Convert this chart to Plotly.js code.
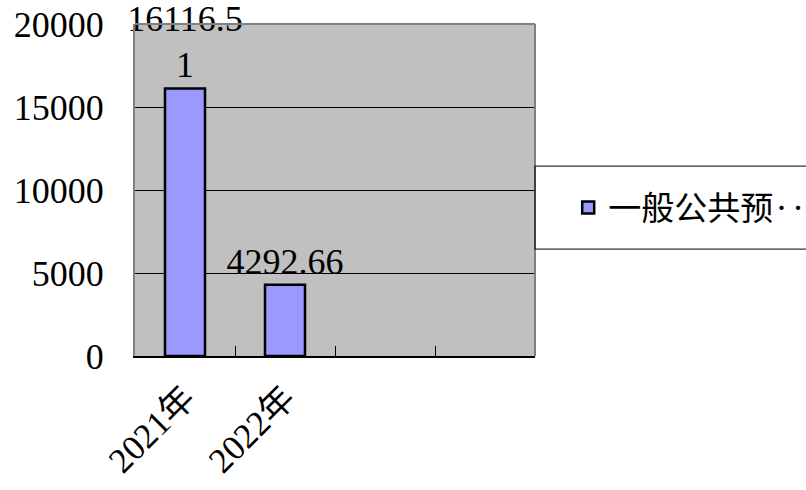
<!DOCTYPE html>
<html>
<head>
<meta charset="utf-8">
<script src="https://cdn.plot.ly/plotly-3.0.1.min.js"></script>
<style>html,body{margin:0;padding:0;background:#fff;}#chart{width:806px;height:490px;}</style>
</head>
<body>
<div id="chart"></div>
<script>
// ---- data ----
const categories = ['2021年', '2022年', '\u3000', '\u3000\u3000'];
const values = [16116.51, 4292.66, null, null];
const seriesName = '一般公共预‥';
const yTicks = [0, 5000, 10000, 15000, 20000];

// label wrapping like the reference (label box wraps after 7 characters)
function wrapLabel(v) {
  if (v === null) return '';
  const s = String(v);
  return s.length > 7 ? s.slice(0, 7) + '<br>' + s.slice(7) : s;
}
const labels = values.map(wrapLabel);

const FONT = '"Liberation Serif", "Noto Sans CJK SC", serif';

const trace = {
  type: 'bar',
  x: categories,
  y: values,
  name: seriesName,
  width: 0.4,
  marker: { color: '#9999ff', line: { color: '#000000', width: 2.5 } },
  text: labels,
  textposition: 'outside',
  constraintext: 'none',
  cliponaxis: false,
  textfont: { family: FONT, size: 36, color: '#000' },
  hoverinfo: 'none'
};

const layout = {
  width: 806, height: 490,
  margin: { l: 135, r: 271, t: 24, b: 134, pad: 0, autoexpand: false },
  paper_bgcolor: '#ffffff',
  plot_bgcolor: '#c0c0c0',
  font: { family: FONT, size: 36, color: '#000' },
  showlegend: true,
  legend: {
    x: 1.083, xanchor: 'left', y: 0.447, yanchor: 'middle',
    bgcolor: 'rgba(0,0,0,0)', borderwidth: 0,
    font: { family: '"Noto Sans CJK SC", sans-serif', size: 33, color: '#000' }
  },
  xaxis: {
    type: 'category',
    categoryorder: 'array', categoryarray: categories,
    range: [-0.5, 3.5],
    tickson: 'boundaries',
    ticks: 'inside', ticklen: 10, tickcolor: '#000', tickwidth: 1,
    tickangle: -45,
    ticklabelstandoff: 6,
    tickfont: { family: FONT, size: 35, color: '#000' },
    showline: true, linecolor: '#000', linewidth: 1.5, mirror: false,
    showgrid: false, zeroline: false, fixedrange: true
  },
  yaxis: {
    range: [0, 20000],
    tickvals: yTicks,
    ticktext: yTicks.map(String),
    ticks: 'inside', ticklen: 10, tickcolor: '#000',
    ticklabelstandoff: 22,
    tickfont: { family: FONT, size: 36, color: '#000' },
    showline: true, linecolor: '#808080', linewidth: 2, mirror: false,
    showgrid: true, gridcolor: '#000', gridwidth: 1,
    zeroline: false, fixedrange: true
  },
  shapes: [
    // top & right plot border
    { type: 'line', xref: 'paper', yref: 'paper', x0: 0, x1: 1, y0: 1, y1: 1, line: { color: '#808080', width: 2 } },
    { type: 'line', xref: 'paper', yref: 'paper', x0: 1, x1: 1, y0: 0, y1: 1, line: { color: '#808080', width: 2 } },
    // legend box
    { type: 'rect', xref: 'paper', yref: 'paper', x0: 1.0, x1: 1.7, y0: 0.322, y1: 0.572,
      line: { color: '#000', width: 1 }, fillcolor: 'rgba(0,0,0,0)', layer: 'above' }
  ]
};

Plotly.newPlot('chart', [trace], layout, { staticPlot: true, displayModeBar: false });
</script>
</body>
</html>
